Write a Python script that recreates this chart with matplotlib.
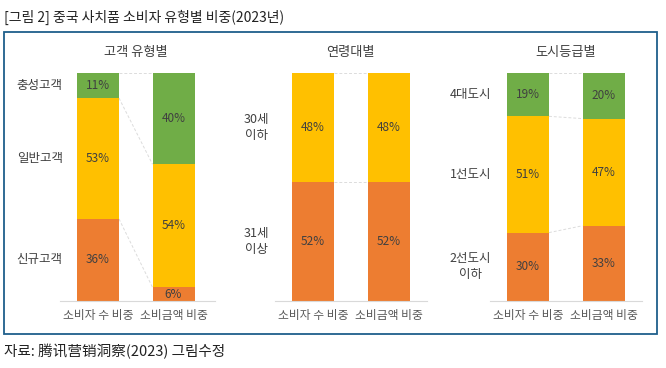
import matplotlib
matplotlib.use("Agg")
import matplotlib.pyplot as plt
from matplotlib.patches import Rectangle
import matplotlib.transforms as mtransforms

plt.rcParams['font.family'] = ['Noto Sans CJK KR', 'DejaVu Sans']

fig_title = "[그림 2] 중국 사치품 소비자 유형별 비중(2023년)"
source_text = "자료: 腾讯营销洞察(2023) 그림수정"

bar_names = ["소비자 수 비중", "소비금액 비중"]

panel_titles = ["고객 유형별", "연령대별", "도시등급별"]

# segments listed bottom -> top
p1_labels = ["신규고객", "일반고객", "충성고객"]
p1_consumers = [36, 53, 11]
p1_spending = [6, 54, 40]

p2_labels = ["31세\n이상", "30세\n이하"]
p2_consumers = [52, 48]
p2_spending = [52, 48]

p3_labels = ["2선도시\n이하", "1선도시", "4대도시"]
p3_consumers = [30, 51, 19]
p3_spending = [33, 47, 20]

colors3 = ["#ED7D31", "#FFC000", "#70AD47"]
colors2 = ["#ED7D31", "#FFC000"]

W, H = 666, 368
fig = plt.figure(figsize=(W / 100, H / 100), dpi=100)

def px_axes(left, right, top, bottom):
    return fig.add_axes([left / W, (H - bottom) / H, (right - left) / W, (bottom - top) / H])

panels = [
    dict(ax=(60, 215), labels=p1_labels, vals=[p1_consumers, p1_spending], colors=colors3, lab_gap=0.19, title=panel_titles[0]),
    dict(ax=(275, 427), labels=p2_labels, vals=[p2_consumers, p2_spending], colors=colors2, lab_gap=0.30, title=panel_titles[1]),
    dict(ax=(490, 642), labels=p3_labels, vals=[p3_consumers, p3_spending], colors=colors3, lab_gap=0.21, title=panel_titles[2]),
]

spacing = 75.5
bw = 42 / spacing
for p in panels:
    l, r = p["ax"]
    ax = px_axes(l, r, 73, 301)
    c0 = l + 38
    ax.set_xlim(-(c0 - l) / spacing, (r - c0) / spacing)
    ax.set_ylim(0, 100)
    for i, vals in enumerate(p["vals"]):
        bottom = 0
        for j, v in enumerate(vals):
            ax.bar(i, v, bottom=bottom, width=bw, color=p["colors"][j], edgecolor='none', zorder=2)
            ax.text(i, bottom + v / 2, f"{v}%", ha='center', va='center', fontsize=8.5, color='#404040', zorder=3)
            bottom += v
    # connector lines
    c1 = 0
    c2 = 0
    for j in range(len(p["vals"][0])):
        c1 += p["vals"][0][j]
        c2 += p["vals"][1][j]
        ax.plot([bw / 2, 1 - bw / 2], [c1, c2], ls=(0, (3, 2)), color='#dcdcdc', lw=0.7, zorder=1)
    # category labels
    bottom = 0
    for j, v in enumerate(p["vals"][0]):
        ax.text(-bw / 2 - p["lab_gap"], bottom + v / 2, p["labels"][j], ha='right', va='center',
                multialignment='center', fontsize=9, color='#404040', linespacing=1.3)
        bottom += v
    ax.set_xticks([0, 1])
    ax.set_xticklabels(bar_names, fontsize=8.5, color='#595959')
    ax.tick_params(axis='x', length=0, pad=6)
    ax.set_yticks([])
    for s in ['top', 'left', 'right']:
        ax.spines[s].set_visible(False)
    ax.spines['bottom'].set_color('#d9d9d9')
    ax.spines['bottom'].set_linewidth(0.8)
    trans = mtransforms.blended_transform_factory(ax.transData, ax.transAxes)
    ax.text(0.5, 1.088, p["title"], transform=trans, ha='center', va='center', fontsize=9.5, color='#404040')

# frame
fig.patches.append(Rectangle((4 / W, (H - 334) / H), (657 - 4) / W, (334 - 32) / H,
                             transform=fig.transFigure, fill=False, edgecolor='#1f5f8b', lw=1.3))

fig.text(4 / W, (H - 17) / H, fig_title, ha='left', va='center', fontsize=10, color='#222222')
fig.text(4 / W, (H - 352) / H, source_text, ha='left', va='center', fontsize=10.5, color='#222222')

fig.savefig("out.png", dpi=100)
